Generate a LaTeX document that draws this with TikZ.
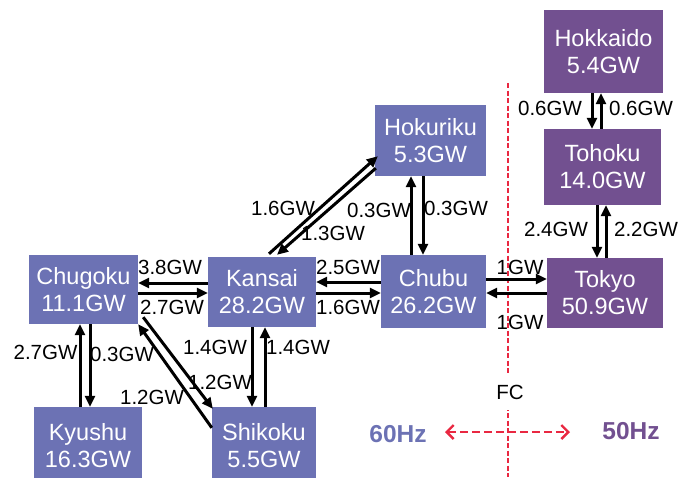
\documentclass[tikz,border=0pt]{standalone}
\usepackage{fontspec}
\setmainfont{Liberation Sans}
\usetikzlibrary{arrows.meta}
\definecolor{westgrid}{RGB}{108,114,180}
\definecolor{eastgrid}{RGB}{114,80,144}
\definecolor{fcred}{RGB}{233,40,65}
\tikzset{
  region/.style={rectangle, inner sep=0pt, text=white, align=center,
    font=\fontsize{23.5}{27}\selectfont},
  westbox/.style={region, fill=westgrid},
  eastbox/.style={region, fill=eastgrid},
  flow/.style={line width=3pt, -{Triangle[length=11pt,width=10pt]}},
  gwlabel/.style={inner sep=0pt, font=\fontsize{20.5}{24}\selectfont},
  hzlabel/.style={inner sep=0pt, font=\bfseries\fontsize{24.5}{28}\selectfont},
  border/.style={fcred, line width=2.4pt, dash pattern=on 5pt off 2.5pt},
  hzarrow/.style={fcred, line width=2.4pt, dash pattern=on 8pt off 4pt,
    {Straight Barb[length=7pt,width=14pt]}-{Straight Barb[length=7pt,width=14pt]}},
}
\begin{document}
\begin{tikzpicture}[x=1pt,y=-1pt]
\useasboundingbox (0,0) rectangle (691,477);

% frequency border (behind everything)
\coordinate (bordertop) at (508,83);
\coordinate (borderbot) at (508,477);
\draw[border] (bordertop) -- (borderbot);

% 60Hz regions
\node[westbox, minimum width=109pt, minimum height=69pt] (chugoku)  at (83.5,289.5) {Chugoku\\11.1GW};
\node[westbox, minimum width=108pt, minimum height=70pt] (kansai)   at (262,292)    {Kansai\\28.2GW};
\node[westbox, minimum width=108pt, minimum height=78pt] (kyushu)   at (88,446)     {Kyushu\\16.3GW};
\node[westbox, minimum width=104pt, minimum height=78pt] (shikoku)  at (264,446)    {Shikoku\\5.5GW};
\node[westbox, minimum width=111pt, minimum height=71pt] (hokuriku) at (430.5,140.5) {Hokuriku\\5.3GW};
\node[westbox, minimum width=105pt, minimum height=73pt] (chubu)    at (433.5,291.5) {Chubu\\26.2GW};

% 50Hz regions
\node[eastbox, minimum width=119pt, minimum height=83pt] (hokkaido) at (603.5,51.5) {Hokkaido\\5.4GW};
\node[eastbox, minimum width=117pt, minimum height=76pt] (tohoku)   at (602.5,167)  {Tohoku\\14.0GW};
\node[eastbox, minimum width=116pt, minimum height=70pt] (tokyo)    at (605,293)    {Tokyo\\50.9GW};

% Chugoku - Kansai
\draw[flow] ([yshift=9pt]kansai.west) -- ([yshift=6.5pt]chugoku.east);
\draw[flow] ([yshift=-3.5pt]chugoku.east) -- ([yshift=-1pt]kansai.west);
% Kansai - Chubu
\draw[flow] ([yshift=9.5pt]chubu.west) -- ([yshift=10pt]kansai.east);
\draw[flow] ([yshift=-1pt]kansai.east) -- ([yshift=-1.5pt]chubu.west);
% Chubu - Tokyo
\draw[flow] ([yshift=12.5pt]chubu.east) -- ([yshift=14pt]tokyo.west);
\draw[flow] (tokyo.west) -- ([yshift=-1.5pt]chubu.east);
% Chugoku - Kyushu
\draw[flow] ([xshift=-8pt]kyushu.north) -- ([xshift=-3.5pt]chugoku.south);
\draw[flow] ([xshift=6.5pt]chugoku.south) -- ([xshift=2pt]kyushu.north);
% Kansai - Shikoku
\draw[flow] ([xshift=-10pt]kansai.south) -- ([xshift=-12pt]shikoku.north);
\draw[flow] ([xshift=1pt]shikoku.north) -- ([xshift=3pt]kansai.south);
% Hokuriku - Chubu
\draw[flow] ([xshift=-22.5pt]chubu.north) -- ([xshift=-19.5pt]hokuriku.south);
\draw[flow] ([xshift=-7.5pt]hokuriku.south) -- ([xshift=-10.5pt]chubu.north);
% Hokkaido - Tohoku
\draw[flow] ([xshift=-11.5pt]hokkaido.south) -- ([xshift=-10.5pt]tohoku.north);
\draw[flow] ([xshift=-1.5pt]tohoku.north) -- ([xshift=-2.5pt]hokkaido.south);
% Tohoku - Tokyo
\draw[flow] ([xshift=-5.5pt]tohoku.south) -- ([xshift=-8pt]tokyo.north);
\draw[flow] ([xshift=1pt]tokyo.north) -- ([xshift=3.5pt]tohoku.south);
% Chugoku - Shikoku
\draw[flow] ([yshift=-21pt]shikoku.north west) -- (chugoku.south east);
\draw[flow] ([xshift=5pt,yshift=7pt]chugoku.south east) -- ([xshift=1pt,yshift=-2pt]shikoku.north west);
% Kansai - Hokuriku
\draw[flow] ([xshift=7pt,yshift=3pt]kansai.north) -- ([xshift=3pt,yshift=20pt]hokuriku.south west);
\draw[flow] ([xshift=1pt,yshift=8pt]hokuriku.south west) -- ([xshift=15pt,yshift=2pt]kansai.north);

% transfer capacities
\node[gwlabel] (l1)  at (170,267.5) {3.8GW};
\node[gwlabel] (l2)  at (172,307.5) {2.7GW};
\node[gwlabel] (l3)  at (348,267.5) {2.5GW};
\node[gwlabel] (l4)  at (348,307)   {1.6GW};
\node[gwlabel] (l5)  at (45.5,352)  {2.7GW};
\node[gwlabel] (l6)  at (122,354)   {0.3GW};
\node[gwlabel] (l7)  at (152,397)   {1.2GW};
\node[gwlabel] (l8)  at (220,382)   {1.2GW};
\node[gwlabel] (l9)  at (215,347)   {1.4GW};
\node[gwlabel] (l10) at (298,347)   {1.4GW};
\node[gwlabel] (l11) at (283,208)   {1.6GW};
\node[gwlabel] (l12) at (333,233)   {1.3GW};
\node[gwlabel] (l13) at (379,210)   {0.3GW};
\node[gwlabel] (l14) at (456,208)   {0.3GW};
\node[gwlabel] (l15) at (520,267)   {1GW};
\node[gwlabel] (l16) at (520,322)   {1GW};
\node[gwlabel] (l17) at (556,229)   {2.4GW};
\node[gwlabel] (l18) at (646,229)   {2.2GW};
\node[gwlabel] (l19) at (550,108)   {0.6GW};
\node[gwlabel] (l20) at (641,108)   {0.6GW};

% frequency converter and the two frequency zones
\node[gwlabel, fill=white, inner xsep=2pt, inner ysep=11pt] (fc) at (510,392) {FC};
\coordinate (hzleft) at (445,432);
\coordinate (hzright) at (570,432);
\draw[hzarrow] (hzleft) -- (hzright);
\node[hzlabel, text=westgrid] (hz60) at (398,434) {60Hz};
\node[hzlabel, text=eastgrid] (hz50) at (631,431) {50Hz};
\end{tikzpicture}
\end{document}
